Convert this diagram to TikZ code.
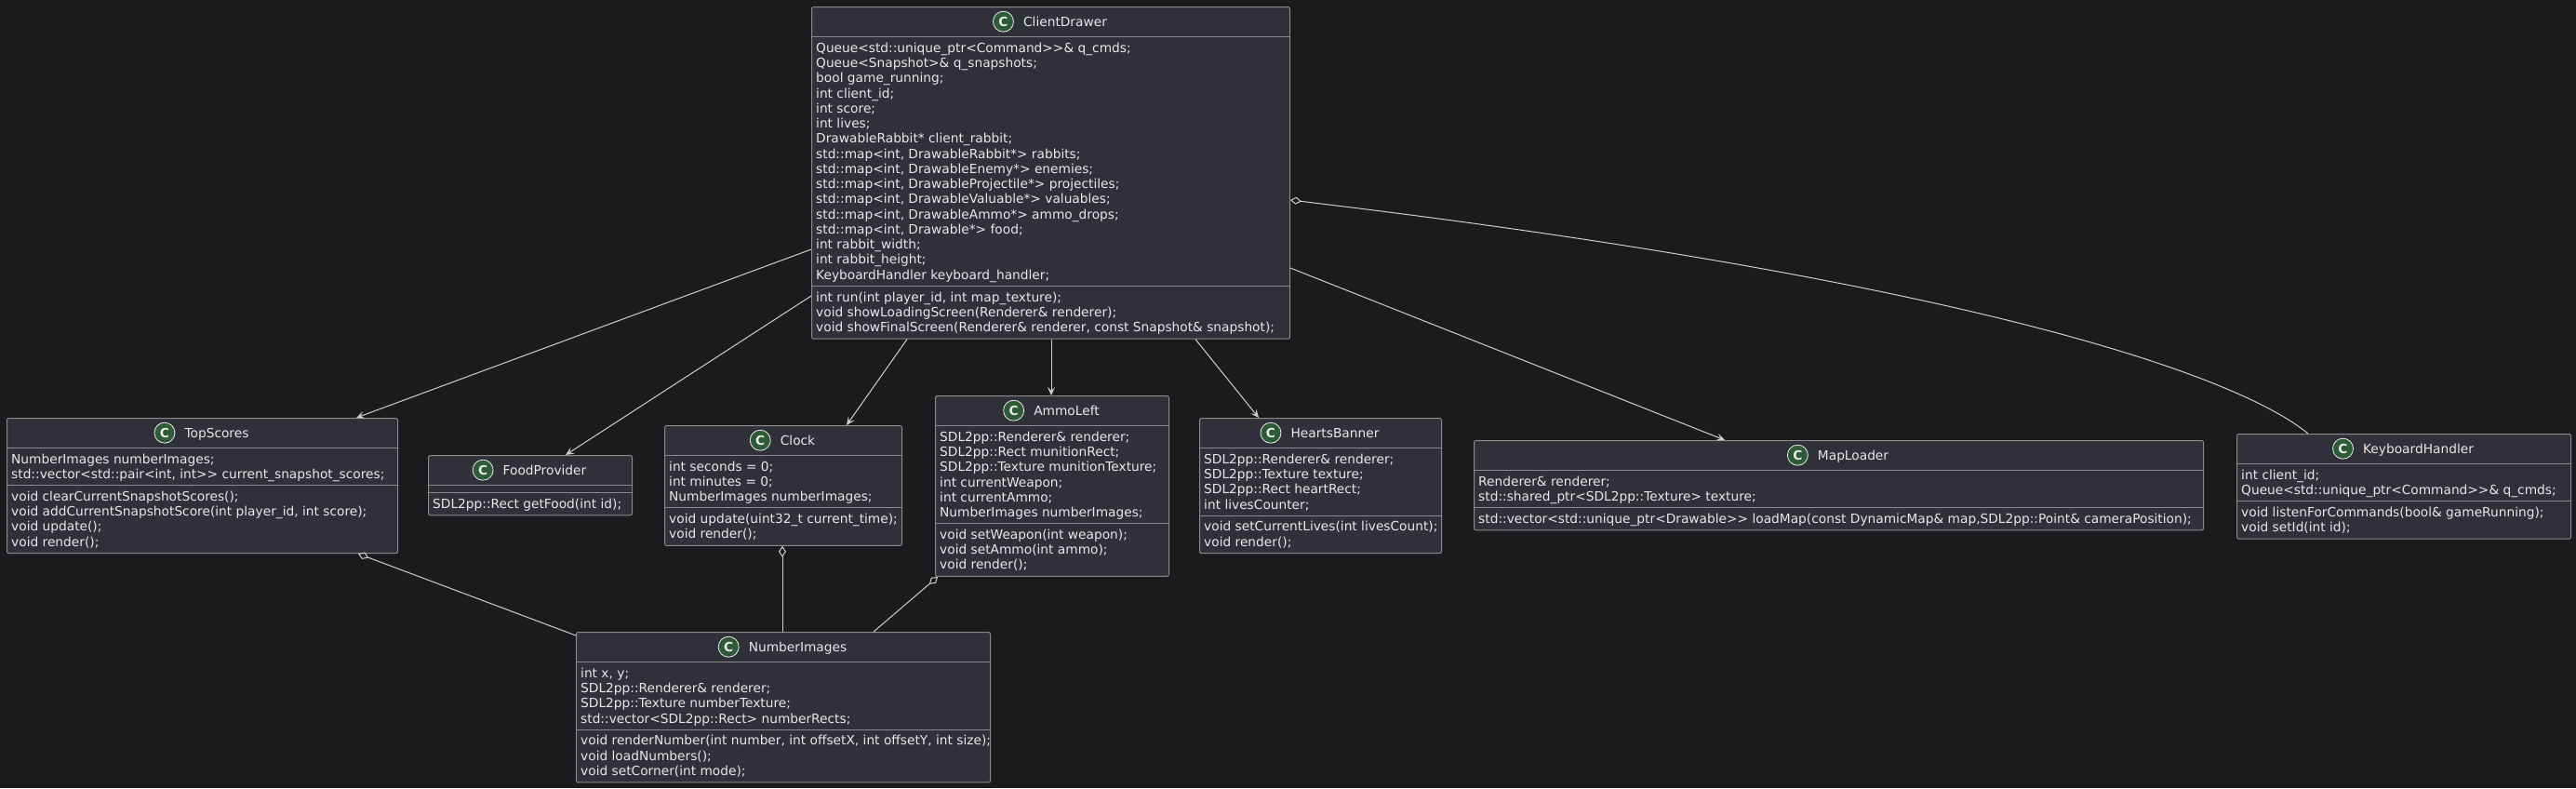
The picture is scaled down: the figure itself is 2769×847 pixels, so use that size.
\documentclass[tikz,border=0pt]{standalone}
\usepackage{fontspec}
\setmainfont{DejaVu Sans}[Ligatures=TeXOff]
\usetikzlibrary{positioning, calc, arrows.meta}

\definecolor{bgcolor}{HTML}{1B1B1D}
\definecolor{boxfill}{HTML}{2F3039}
\definecolor{boxline}{HTML}{8A8A8A}
\definecolor{textcol}{HTML}{E8E8E8}
\definecolor{linkcol}{HTML}{CFCFCF}
\definecolor{icongreen}{HTML}{2C5B36}

\newcommand{\umlfont}{\fontsize{13.75}{16.27}\selectfont}

\tikzset{
  classbox/.style={draw=boxline, fill=boxfill, rounded corners=2pt, line width=1pt, inner sep=0pt, anchor=north west},
  classsep/.style={draw=boxline, line width=1pt},
  classname/.style={inner sep=0pt, anchor=base, text height=10.2pt, text depth=0pt, text=textcol, font=\umlfont},
  classicon/.style={circle, draw=textcol!85, line width=0.8pt, fill=icongreen, minimum size=22pt, inner sep=0pt, text=textcol, font=\umlfont\bfseries},
  member/.style={inner sep=0pt, anchor=north west, align=left, text=textcol, font=\umlfont},
  assoc/.style={draw=linkcol, line width=1pt, -{Stealth[length=9pt, width=8pt, inset=4pt]}},
  aggr/.style={draw=linkcol, line width=1pt, {Diamond[open, length=12pt, width=8pt]}-},
}

% #1 name, #2 left, #3 top, #4 width, #5 title,
% #6 number of fields, #7 fields, #8 number of methods, #9 methods
\newcommand{\umlclass}[9]{%
  \pgfmathsetmacro{\sepA}{#3+32.5}
  \ifnum#6=0 \pgfmathsetmacro{\sepB}{\sepA+8}\else\pgfmathsetmacro{\sepB}{\sepA+#6*16.27+7.5}\fi
  \pgfmathsetmacro{\boxh}{\sepB+#8*16.27+7.5-#3}
  \node[classbox, minimum width=#4pt, minimum height=\boxh pt] (#1) at (#2,#3) {};
  \draw[classsep] (#2,\sepA) -- ++(#4,0);
  \draw[classsep] (#2,\sepB) -- ++(#4,0);
  \node[classname] (#1-name) at ({#2+#4/2+16},{#3+21.3}) {#5};
  \node[classicon, left=10pt of #1-name] (#1-icon) {C};
  \ifnum#6>0 \node[member] (#1-fields) at ({#2+5},{\sepA+5.1}) {\strut#7};\fi
  \node[member] (#1-methods) at ({#2+5},{\sepB+5.1}) {\strut#9};
}

\begin{document}
\begin{tikzpicture}[x=1pt, y=-1pt]
\fill[bgcolor, use as bounding box] (0,0) rectangle (2769,847);

% classes
\umlclass{cd}{872}{7}{514}{ClientDrawer}{16}{Queue<std::unique\_ptr<Command>>\& q\_cmds;\\
  Queue<Snapshot>\& q\_snapshots;\\
  bool game\_running;\\
  int client\_id;\\
  int score;\\
  int lives;\\
  DrawableRabbit* client\_rabbit;\\
  std::map<int, DrawableRabbit*> rabbits;\\
  std::map<int, DrawableEnemy*> enemies;\\
  std::map<int, DrawableProjectile*> projectiles;\\
  std::map<int, DrawableValuable*> valuables;\\
  std::map<int, DrawableAmmo*> ammo\_drops;\\
  std::map<int, Drawable*> food;\\
  int rabbit\_width;\\
  int rabbit\_height;\\
  KeyboardHandler keyboard\_handler;}{3}{int run(int player\_id, int map\_texture);\\
  void showLoadingScreen(Renderer\& renderer);\\
  void showFinalScreen(Renderer\& renderer, const Snapshot\& snapshot);}

\umlclass{scores}{7}{449}{420}{TopScores}{2}{NumberImages numberImages;\\
  std::vector<std::pair<int, int>> current\_snapshot\_scores;}{4}{void clearCurrentSnapshotScores();\\
  void addCurrentSnapshotScore(int player\_id, int score);\\
  void update();\\
  void render();}

\umlclass{food}{460}{489}{219}{FoodProvider}{0}{}{1}{SDL2pp::Rect getFood(int id);}

\umlclass{clock}{714}{457}{255}{Clock}{3}{int seconds = 0;\\
  int minutes = 0;\\
  NumberImages numberImages;}{2}{void update(uint32\_t current\_time);\\
  void render();}

\umlclass{ammo}{1005}{425}{251}{AmmoLeft}{6}{SDL2pp::Renderer\& renderer;\\
  SDL2pp::Rect munitionRect;\\
  SDL2pp::Texture munitionTexture;\\
  int currentWeapon;\\
  int currentAmmo;\\
  NumberImages numberImages;}{3}{void setWeapon(int weapon);\\
  void setAmmo(int ammo);\\
  void render();}

\umlclass{hearts}{1289}{449}{260}{HeartsBanner}{4}{SDL2pp::Renderer\& renderer;\\
  SDL2pp::Texture texture;\\
  SDL2pp::Rect heartRect;\\
  int livesCounter;}{2}{void setCurrentLives(int livesCount);\\
  void render();}

\umlclass{maploader}{1584}{473}{784}{MapLoader}{2}{Renderer\& renderer;\\
  std::shared\_ptr<SDL2pp::Texture> texture;}{1}{std::vector<std::unique\_ptr<Drawable>> loadMap(const DynamicMap\& map,SDL2pp::Point\& cameraPosition);}

\umlclass{keys}{2404}{466}{359}{KeyboardHandler}{2}{int client\_id;\\
  Queue<std::unique\_ptr<Command>>\& q\_cmds;}{2}{void listenForCommands(bool\& gameRunning);\\
  void setId(int id);}

\umlclass{numbers}{619}{679}{445}{NumberImages}{4}{int x, y;\\
  SDL2pp::Renderer\& renderer;\\
  SDL2pp::Texture numberTexture;\\
  std::vector<SDL2pp::Rect> numberRects;}{3}{void renderNumber(int number, int offsetX, int offsetY, int size);\\
  void loadNumbers();\\
  void setCorner(int mode);}

% associations
\draw[assoc] ($(cd.north west)+(0,261)$) -- ($(scores.north west)+(376,0)$);
\draw[assoc] ($(cd.north west)+(0,311)$) -- ($(food.north west)+(148,0)$);
\draw[assoc] ($(cd.south west)+(103,0)$) -- ($(clock.north west)+(196,0)$);
\draw[assoc] ($(cd.south west)+(258,0)$) -- ($(ammo.north west)+(125,0)$);
\draw[assoc] ($(cd.south west)+(413,0)$) -- ($(hearts.north west)+(64,0)$);
\draw[assoc] ($(cd.north east)+(0,281)$) -- ($(maploader.north west)+(270,0)$);

% aggregations
\draw[aggr] ($(cd.north east)+(0,208)$) .. controls (2100,300) and (2400,400) .. ($(keys.north west)+(77,0)$);
\draw[aggr] ($(scores.south west)+(378,0)$) -- ($(numbers.north west)+(0,4)$);
\draw[aggr] ($(clock.south west)+(127,0)$) -- ($(numbers.north west)+(222,0)$);
\draw[aggr] ($(ammo.south west)+(3,0)$) -- ($(numbers.north west)+(320,0)$);
\end{tikzpicture}
\end{document}
